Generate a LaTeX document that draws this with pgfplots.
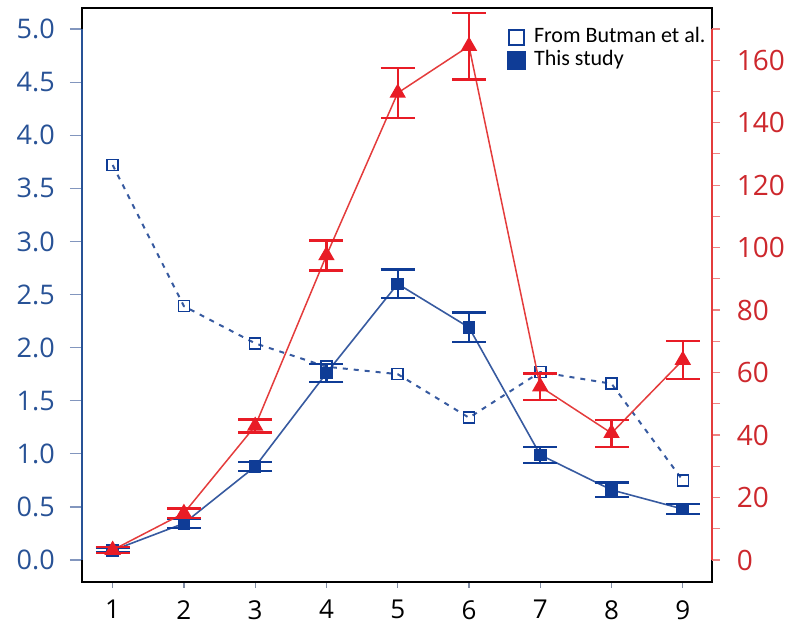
\documentclass[border=0pt]{standalone}
\usepackage{fontspec}
\setmainfont{Open Sans}
\newfontfamily\tickfont{Open Sans}
\newfontfamily\legfont{Carlito}
\usepackage{pgfplots}
\pgfplotsset{compat=1.18}
\usepackage{pgfplotstable}

\definecolor{bluemk}{RGB}{15,60,150}
\definecolor{blueline}{RGB}{55,90,160}
\definecolor{bluetxt}{RGB}{40,82,150}
\definecolor{bluetick}{RGB}{130,150,190}
\definecolor{redmk}{RGB}{232,28,38}
\definecolor{redline}{RGB}{228,60,60}
\definecolor{redtxt}{RGB}{205,40,45}
\definecolor{redtick}{RGB}{238,130,130}

\pgfplotstableread{
x butman study studyerr
1 3.72 0.09 0.02
2 2.39 0.345 0.04
3 2.04 0.88 0.045
4 1.82 1.76 0.085
5 1.75 2.60 0.135
6 1.34 2.19 0.14
7 1.77 0.99 0.075
8 1.66 0.66 0.07
9 0.75 0.48 0.045
}\bluedata

\pgfplotstableread{
x val err
1 3.2 1.0
2 15.0 1.5
3 42.9 2.1
4 97.5 4.8
5 149.5 8.1
6 164.5 10.7
7 55.5 4.2
8 40.6 4.3
9 64.0 6.0
}\reddata

\pgfplotsset{common/.style={
  scale only axis, width=630pt, height=574pt,
  xmin=0.57, xmax=9.41, clip=false,
  /pgf/number format/assume math mode=true,
  tick label style={font=\tickfont\fontsize{27}{30}\selectfont, inner sep=0pt},
  tick align=outside,
}}

\begin{document}
\begin{tikzpicture}
\begin{axis}[common, name=ax,
  ymin=-0.207, ymax=5.198,
  xtick={1,...,9}, xtick pos=bottom,
  ytick={0,0.5,...,5.0}, ytick pos=left,
  yticklabel style={color=bluetxt, xshift=-15pt, /pgf/number format/.cd, fixed, fixed zerofill, precision=1},
  xticklabel style={color=black, yshift=-6pt, font=\tickfont\fontsize{26}{28}\selectfont},
  axis line style={black, line width=2pt},
  major tick length=12pt,
  xtick style={bluetick!60!gray, line width=1.2pt, /pgfplots/major tick length=6pt},
  ytick style={bluetick, line width=1.2pt},
  legend style={at={(rel axis cs:0.675,1)}, anchor=north west, yshift=-19pt,
    draw=none, fill=none, inner sep=0pt, row sep=3.5pt, column sep=4pt,
    font=\legfont\fontsize{22}{24}\selectfont,
    nodes={inner xsep=4pt, inner ysep=0pt, text height=15pt, text depth=5pt}},
  legend cell align=left,
]
\addplot[blueline, line width=2pt, dash pattern=on 5pt off 6pt,
  mark=square, mark size=5.5pt,
  mark options={solid, line width=1.5pt, draw=bluemk, fill=white},
  legend image code/.code={\draw[bluemk, line width=2pt, fill=white, solid] (1pt,-7.5pt) rectangle (16pt,7.5pt);}]
  table[x=x, y=butman]{\bluedata};
\addlegendentry{From Butman et al.}
\addplot[blueline, line width=1.6pt,
  mark=square*, mark size=5.5pt,
  mark options={solid, draw=bluemk, fill=bluemk},
  legend image code/.code={\fill[bluemk] (0pt,-8.5pt) rectangle (17pt,8.5pt);},
  error bars/.cd, y dir=both, y explicit,
  error bar style={bluemk, line width=2.2pt},
  error mark options={rotate=90, mark size=17pt, line width=2.2pt, bluemk}]
  table[x=x, y=study, y error=studyerr]{\bluedata};
\addlegendentry{This study}
\draw[bluetxt, line width=2pt] (axis cs:0.57,0) -- (axis cs:0.57,5);
\end{axis}
\begin{axis}[common,
  ymin=-7.04, ymax=176.7,
  axis x line=none,
  axis y line*=right,
  y axis line style={draw=none},
  ytick={0,20,...,160},
  minor ytick={10,30,...,170},
  major tick length=8pt, minor tick length=8pt,
  yticklabel style={color=redtxt, xshift=16.7pt, font=\tickfont\fontsize{28}{30}\selectfont},
  ytick style={redtick, line width=1.2pt},
  minor y tick style={redtick, line width=1.2pt},
]
\addplot[redline, line width=1.5pt,
  mark=triangle*, mark size=8pt,
  mark options={solid, draw=redmk, fill=redmk},
  error bars/.cd, y dir=both, y explicit,
  error bar style={redmk, line width=2.2pt},
  error mark options={rotate=90, mark size=17pt, line width=2.2pt, redmk}]
  table[x=x, y=val, y error=err]{\reddata};
\draw[redline, line width=2pt] (axis cs:9.41,0) -- (axis cs:9.41,170);
\end{axis}
\pgfresetboundingbox
\path ([xshift=-82pt,yshift=-44pt]ax.south west) rectangle ([xshift=79pt,yshift=8pt]ax.north east);
\end{tikzpicture}
\end{document}
